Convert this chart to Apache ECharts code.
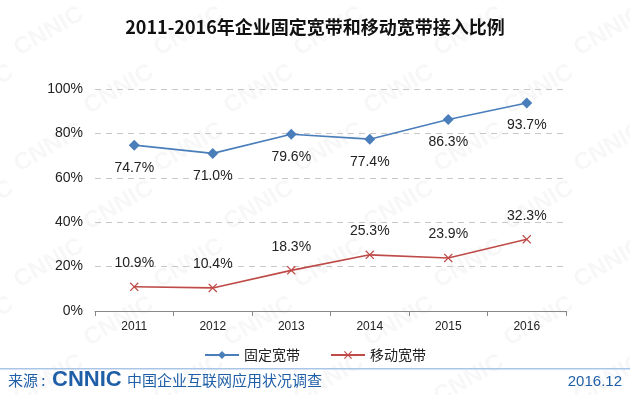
<!DOCTYPE html>
<html><head><meta charset="utf-8">
<script src="https://cdn.jsdelivr.net/npm/echarts@6/dist/echarts.min.js"></script>
<style>html,body{margin:0;padding:0;background:#fff}#c{width:630px;height:395px}</style>
</head><body><div id="c"></div>
<script>
const title = '2011-2016年企业固定宽带和移动宽带接入比例';
const years = ['2011','2012','2013','2014','2015','2016'];
const fixedName = '固定宽带';
const fixedVals = [74.7, 71.0, 79.6, 77.4, 86.3, 93.7];
const mobileName = '移动宽带';
const mobileVals = [10.9, 10.4, 18.3, 25.3, 23.9, 32.3];
const yTicks = [0, 20, 40, 60, 80, 100];
const sourceText = '来源 :';
const sourceOrg = 'CNNIC';
const sourceSurvey = '中国企业互联网应用状况调查';
const dateText = '2016.12';

const chart = echarts.init(document.getElementById('c'));
const wm = [];
for (let r = -1; r < 8; r++) {
  for (let c = -1; c < 6; c++) {
    wm.push({type:'text', x: c*140 + ((r+2)%2)*70 + 10, y: r*58 + 40, rotation: Math.PI/6,
      silent:true, z:-10,
      style:{text:'CNNIC', font:'bold 24px "Liberation Sans", Arial', fill:'rgba(0,0,0,0.03)'}});
  }
}
const CROSS = 'path://M0,1L1,0L5,4L9,0L10,1L6,5L10,9L9,10L5,6L1,10L0,9L4,5Z';
chart.setOption({
  backgroundColor:'#fff',
  animation:false,
  title:{text:title, left:'center', top:13,
    textStyle:{fontFamily:'"Noto Sans CJK SC"', fontWeight:'bold', fontSize:18, color:'#111'}},
  grid:{left:95, right:64, top:89, bottom:84},
  legend:{bottom:28, left:'center', itemWidth:34, itemHeight:10, itemGap:30,
    textStyle:{fontFamily:'"Noto Sans CJK SC"', fontSize:14, color:'#222'},
    data:[{name:fixedName},{name:mobileName}]},
  xAxis:{type:'category', data:years, boundaryGap:true,
    axisLine:{lineStyle:{color:'#888'}}, axisTick:{show:true, lineStyle:{color:'#888'}, length:5},
    axisLabel:{fontFamily:'"Liberation Sans", Arial', fontSize:12, color:'#222', margin:10}},
  yAxis:{type:'value', min:yTicks[0], max:yTicks[yTicks.length-1], interval:20,
    axisLine:{show:false}, axisTick:{show:false},
    axisLabel:{formatter:'{value}%', fontFamily:'"Liberation Sans", Arial', fontSize:14, color:'#222', margin:12},
    splitLine:{lineStyle:{color:'#c8c8c8', type:[6,5], width:1}}},
  series:[
    {name:fixedName, type:'line', data:fixedVals, symbol:'diamond', symbolSize:11,
      lineStyle:{color:'#4a7ebb', width:1.6}, itemStyle:{color:'#4a7ebb'},
      label:{show:true, position:'bottom', distance:10, formatter:p=>p.value.toFixed(1)+'%',
        fontFamily:'"Liberation Sans", Arial', fontSize:14, color:'#222'}},
    {name:mobileName, type:'line', data:mobileVals, symbol:CROSS, symbolSize:9,
      lineStyle:{color:'#be4b48', width:1.6}, itemStyle:{color:'#be4b48'},
      label:{show:true, position:'top', distance:12, formatter:p=>p.value.toFixed(1)+'%',
        fontFamily:'"Liberation Sans", Arial', fontSize:14, color:'#222'}}
  ],
  graphic: wm.concat([
    {type:'rect', shape:{x:0, y:368, width:630, height:1.5}, style:{fill:'#a9c6e8'}, silent:true},
    {type:'text', x:8, y:373, style:{text:sourceText, font:'15px "Noto Sans CJK SC"', fill:'#1f5fa8'}},
    {type:'text', x:52, y:369, style:{text:sourceOrg, font:'bold 22px "Liberation Sans", Arial', fill:'#1f5fa8'}},
    {type:'text', x:127, y:373, style:{text:sourceSurvey, font:'15px "Noto Sans CJK SC"', fill:'#1f5fa8'}},
    {type:'text', x:622, y:374, style:{text:dateText, font:'15px "Liberation Sans", Arial', fill:'#1f5fa8', align:'right'}}
  ])
});
</script></body></html>
